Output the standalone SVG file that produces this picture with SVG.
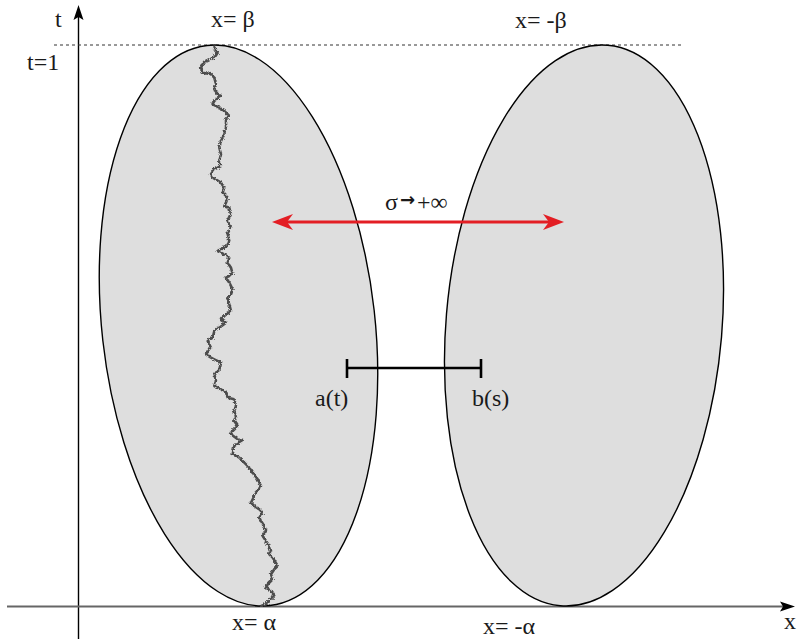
<svg xmlns="http://www.w3.org/2000/svg" width="797" height="643" viewBox="0 0 797 643">
<style>
  text { font-family: "Liberation Serif", "Times New Roman", serif; font-size: 24px; fill: #1a1a1a; }
  .region { fill: #dedede; stroke: #000; stroke-width: 1.4; }
  .axis { stroke: #000; stroke-width: 1.4; fill: none; }
  .xaxis { stroke: #666; stroke-width: 2; fill: none; }
  .dot { stroke: #333; stroke-width: 1; stroke-dasharray: 3 3; fill: none; }
  .red { stroke: #e31e24; stroke-width: 3; fill: none; }
  .bar { stroke: #000; stroke-width: 2.6; fill: none; }
  .walk { stroke: #4d4d4d; stroke-width: 2.6; fill: none; stroke-linejoin: round; }
  .arr { font-family: "DejaVu Sans", sans-serif; font-size: 18px; font-weight: bold; }
</style>
<defs>
  <marker id="redHead" viewBox="-16 -9 24 18" refX="0" refY="0" markerWidth="24" markerHeight="18" markerUnits="userSpaceOnUse" orient="auto-start-reverse">
    <path d="M7,0 L-14,-8 L-8,0 L-14,8 Z" fill="#e31e24"/>
  </marker>
  <marker id="axHead" viewBox="-16 -7 22 14" refX="0" refY="0" markerWidth="22" markerHeight="14" markerUnits="userSpaceOnUse" orient="auto">
    <path d="M5,0 L-10,-5 L-7,0 L-10,5 Z" fill="#000"/>
  </marker>
  <filter id="rough" x="-20%" y="-5%" width="140%" height="110%">
    <feTurbulence type="turbulence" baseFrequency="0.4" numOctaves="2" seed="3" result="n"/>
    <feDisplacementMap in="SourceGraphic" in2="n" scale="3" xChannelSelector="R" yChannelSelector="G"/>
  </filter>
</defs>

<g id="axes">
  <line class="axis" x1="78.5" y1="639" x2="78.5" y2="10" marker-end="url(#axHead)"/>
  <line class="xaxis" x1="7" y1="606.5" x2="790" y2="606.5" marker-end="url(#axHead)"/>
  <line class="dot" x1="54" y1="45" x2="682" y2="45"/>
</g>

<g id="left-region">
  <ellipse class="region" cx="238.5" cy="325.5" rx="136.5" ry="281.8" transform="rotate(-6.4 238.5 325.5)"/>
</g>
<g id="right-region">
  <ellipse class="region" cx="584" cy="325.5" rx="138" ry="281.3" transform="rotate(4.84 584 325.5)"/>
</g>

<g id="brownian-path">
  <polyline class="walk" filter="url(#rough)" points="213,46 216.7,51.7 213.3,56.7 203.3,61.7 200,66.7 201.7,71.7 210,73.3 213.3,76.7 215,83.3 213.3,88.3 216.7,93.3 220,95 213.3,100 211.7,103.3 218.3,106.7 223.3,110 228.3,115 225,118.3 225,126.7 223.3,133.3 220,140 218.3,146.7 220,153.3 218.3,160 220,165 213.3,168.3 210,173.3 211.7,176.7 220,181.7 223.3,186.7 221.7,191.7 226.7,196.7 225,201.7 223.3,205 228.3,206.7 230,213.3 226.7,220 230,226.7 226.7,233.3 228.3,240 226.7,245 216.7,250 223.3,253.3 228.3,256.7 226.7,261.7 230,266.7 231.7,273.3 225,276.7 228.3,281.7 231.7,288.3 230,293.3 226.7,298.3 228.3,303.3 230,310 223.3,315 220,318.3 225,321.7 218.3,326.7 213.3,330 211.7,336.7 206.7,340 210,346.7 205,353.3 210,356.7 213.3,358.3 220,361.7 218.3,370 213.3,373.3 215,380 213.3,385 220,388.3 225,391.7 226.7,396.7 233.3,398.3 235,405 233.3,410 235,416.7 233.3,420 236.7,425 231.7,430 230,433.3 236.7,438.3 241.7,440 233.3,445 231.7,453.3 238.3,456.7 243.3,461.7 248.3,466.7 251.7,471.7 256.7,478.3 260,485 256.7,490 253.3,495 250,501.7 253.3,505 258.3,508.3 261.7,511.7 258.3,516.7 260,520 263.3,525 265,530 261.7,535 265,540 268.3,545 270,550 268.3,553.3 271.7,556.7 276.7,565 273.3,568.3 270,573.3 271.7,578.3 266.7,583.3 265,586.7 270,590 273.3,595 268.3,600 265,603.3 260,605"/>
</g>

<g id="connectors">
  <line class="red" x1="279" y1="222" x2="557" y2="222" marker-start="url(#redHead)" marker-end="url(#redHead)"/>
  <line class="bar" x1="347" y1="368" x2="481" y2="368"/>
  <line class="bar" x1="347" y1="359" x2="347" y2="378"/>
  <line class="bar" x1="481" y1="359" x2="481" y2="378"/>
</g>

<g id="labels">
  <text x="55" y="27">t</text>
  <text x="27" y="70">t=1</text>
  <text x="211" y="27">x= β</text>
  <text x="515" y="28">x= -β</text>
  <text x="385" y="210">σ<tspan class="arr" dx="2" dy="-4">→</tspan><tspan dx="2" dy="4">+∞</tspan></text>
  <text x="315" y="406">a(t)</text>
  <text x="472" y="406">b(s)</text>
  <text x="232" y="630">x= α</text>
  <text x="483" y="634">x= -α</text>
  <text x="784" y="629">x</text>
</g>
</svg>
